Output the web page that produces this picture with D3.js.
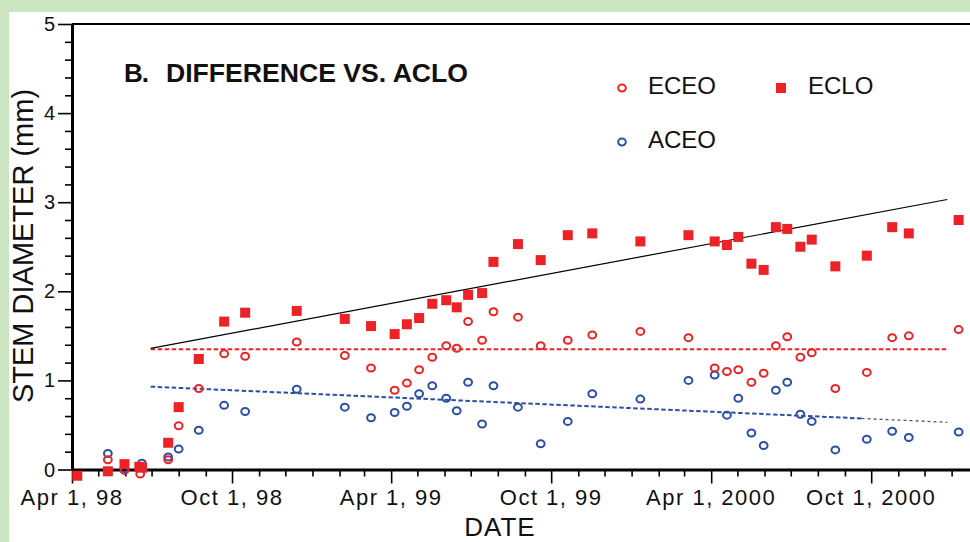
<!DOCTYPE html>
<html lang="en">
<head>
    <meta charset="UTF-8">
    <title>Stem diameter - difference vs ACLO</title>
    <style>
        html, body { margin: 0; padding: 0; background: #cbe5c3; }
        svg { display: block; }
        text { font-family: "Liberation Sans", Arial, sans-serif; fill: #111; }
        .axis path, .axis line { stroke: #000; }
    </style>
</head>
<body>
    <svg id="chart" width="970" height="542"></svg>

    <script src="https://d3js.org/d3.v7.min.js"></script>
    <script>
        // ECLO - filled squares
        const ECLO = [
            ["1998-04-07", -0.07], ["1998-05-12", -0.02], ["1998-05-31", 0.06], ["1998-06-17", 0.03],
            ["1998-06-20", 0.02], ["1998-07-20", 0.30], ["1998-08-01", 0.70], ["1998-08-24", 1.24],
            ["1998-09-22", 1.66], ["1998-10-16", 1.76], ["1998-12-14", 1.78], ["1999-02-07", 1.69],
            ["1999-03-09", 1.61], ["1999-04-05", 1.52], ["1999-04-19", 1.63], ["1999-05-03", 1.70],
            ["1999-05-18", 1.86], ["1999-06-03", 1.90], ["1999-06-15", 1.82], ["1999-06-28", 1.96],
            ["1999-07-14", 1.98], ["1999-07-27", 2.33], ["1999-08-24", 2.53], ["1999-09-19", 2.35],
            ["1999-10-20", 2.63], ["1999-11-17", 2.65], ["2000-01-11", 2.56], ["2000-03-06", 2.63],
            ["2000-04-05", 2.56], ["2000-04-19", 2.52], ["2000-05-02", 2.61], ["2000-05-17", 2.31],
            ["2000-05-31", 2.24], ["2000-06-14", 2.72], ["2000-06-27", 2.70], ["2000-07-12", 2.50],
            ["2000-07-25", 2.58], ["2000-08-21", 2.28], ["2000-09-26", 2.40], ["2000-10-25", 2.72],
            ["2000-11-13", 2.65], ["2001-01-09", 2.80]
        ];

        // ECEO - red open circles
        const ECEO = [
            ["1998-05-12", 0.11], ["1998-05-31", -0.01], ["1998-06-18", -0.05], ["1998-07-20", 0.11],
            ["1998-08-01", 0.49], ["1998-08-24", 0.91], ["1998-09-22", 1.30], ["1998-10-16", 1.27],
            ["1998-12-14", 1.43], ["1999-02-07", 1.28], ["1999-03-09", 1.14], ["1999-04-05", 0.89],
            ["1999-04-19", 0.97], ["1999-05-03", 1.12], ["1999-05-18", 1.26], ["1999-06-03", 1.39],
            ["1999-06-15", 1.36], ["1999-06-28", 1.66], ["1999-07-14", 1.45], ["1999-07-27", 1.77],
            ["1999-08-24", 1.71], ["1999-09-19", 1.39], ["1999-10-20", 1.45], ["1999-11-17", 1.51],
            ["2000-01-11", 1.55], ["2000-03-06", 1.48], ["2000-04-05", 1.14], ["2000-04-19", 1.10],
            ["2000-05-02", 1.12], ["2000-05-17", 0.98], ["2000-05-31", 1.08], ["2000-06-14", 1.39],
            ["2000-06-27", 1.49], ["2000-07-12", 1.26], ["2000-07-25", 1.31], ["2000-08-21", 0.91],
            ["2000-09-26", 1.09], ["2000-10-25", 1.48], ["2000-11-13", 1.50], ["2001-01-09", 1.57]
        ];

        // ACEO - blue open circles
        const ACEO = [
            ["1998-05-12", 0.18], ["1998-05-31", 0.01], ["1998-06-20", 0.07], ["1998-07-20", 0.14],
            ["1998-08-01", 0.23], ["1998-08-24", 0.44], ["1998-09-22", 0.72], ["1998-10-16", 0.65],
            ["1998-12-14", 0.90], ["1999-02-07", 0.70], ["1999-03-09", 0.58], ["1999-04-05", 0.64],
            ["1999-04-19", 0.71], ["1999-05-03", 0.85], ["1999-05-18", 0.94], ["1999-06-03", 0.80],
            ["1999-06-15", 0.66], ["1999-06-28", 0.98], ["1999-07-14", 0.51], ["1999-07-27", 0.94],
            ["1999-08-24", 0.70], ["1999-09-19", 0.29], ["1999-10-20", 0.54], ["1999-11-17", 0.85],
            ["2000-01-11", 0.79], ["2000-03-06", 1.00], ["2000-04-05", 1.06], ["2000-04-19", 0.61],
            ["2000-05-02", 0.80], ["2000-05-17", 0.41], ["2000-05-31", 0.27], ["2000-06-14", 0.89],
            ["2000-06-27", 0.98], ["2000-07-12", 0.62], ["2000-07-25", 0.54], ["2000-08-21", 0.22],
            ["2000-09-26", 0.34], ["2000-10-25", 0.43], ["2000-11-13", 0.36], ["2001-01-09", 0.42]
        ];

        // fitted lines
        const ECLO_TREND = [["1998-06-30", 1.36], ["2000-12-27", 3.03]];
        const ECEO_MEAN = [["1998-06-30", 1.35], ["2000-12-27", 1.35]];
        const ACEO_TREND = [["1998-06-30", 0.93], ["2000-09-20", 0.573]];
        const ACEO_TREND_END = [["2000-09-20", 0.573], ["2000-12-27", 0.53]];

        const xTickLabels = ["Apr 1, 98", "Oct 1, 98", "Apr 1, 99", "Oct 1, 99", "Apr 1, 2000", "Oct 1, 2000"];
        const yTickValues = [0, 1, 2, 3, 4, 5];

        const RED = "#ec2227";
        const BLUE = "#2d4ea6";

        const parse = d3.timeParse("%Y-%m-%d");
        const svg = d3.select("#chart");

        // white panel over the green frame
        svg.append("rect").attr("x", 9).attr("y", 12).attr("width", 961).attr("height", 530).attr("fill", "#fff");

        const x = d3.scaleTime()
            .domain([parse("1998-04-01"), parse("2001-01-22")])
            .range([72, 970]);
        const y = d3.scaleLinear().domain([0, 5]).range([469.5, 24]);

        // top frame line
        svg.append("line")
            .attr("x1", 72).attr("x2", 970).attr("y1", y(5)).attr("y2", y(5))
            .attr("stroke", "#000").attr("stroke-width", 2);

        // x axis: monthly ticks, labelled every 6 months
        const months = d3.timeMonth.range(parse("1998-04-01"), parse("2001-01-02"));
        const isMajor = d => d.getMonth() === 3 || d.getMonth() === 9;
        const majors = months.filter(isMajor);

        const xAxis = svg.append("g").attr("class", "axis")
            .attr("transform", `translate(0,${y(0)})`)
            .call(d3.axisBottom(x).tickValues(months).tickSize(7).tickSizeOuter(0).tickFormat(""));
        xAxis.select(".domain").attr("stroke-width", 3);
        xAxis.selectAll(".tick line")
            .attr("stroke-width", 1.6)
            .attr("y2", d => isMajor(d) ? 14 : 7);

        svg.append("g").selectAll("text")
            .data(majors)
            .join("text")
            .attr("x", d => x(d))
            .attr("y", 505)
            .attr("text-anchor", "middle")
            .attr("font-size", 22)
            .attr("letter-spacing", 1.5)
            .text((d, i) => xTickLabels[i]);

        // y axis
        const yMinor = d3.range(0, 5.01, 0.2);
        const yAxis = svg.append("g").attr("class", "axis")
            .attr("transform", "translate(72,0)")
            .call(d3.axisLeft(y).tickValues(yMinor).tickSize(7).tickSizeOuter(0).tickFormat(""));
        yAxis.select(".domain").attr("stroke-width", 3);
        yAxis.selectAll(".tick line")
            .attr("stroke-width", 1.6)
            .attr("x2", d => Math.abs(d - Math.round(d)) < 1e-6 ? -14 : -7);

        svg.append("g").selectAll("text")
            .data(yTickValues)
            .join("text")
            .attr("x", 55)
            .attr("y", d => y(d) + 7)
            .attr("text-anchor", "end")
            .attr("font-size", 20)
            .text(d => d);

        // axis titles
        svg.append("text")
            .attr("transform", "translate(33,246) rotate(-90)")
            .attr("text-anchor", "middle")
            .attr("font-size", 29)
            .text("STEM DIAMETER (mm)");

        svg.append("text")
            .attr("x", 500).attr("y", 536)
            .attr("text-anchor", "middle")
            .attr("font-size", 26)
            .attr("letter-spacing", 1)
            .text("DATE");

        // panel title
        svg.append("text")
            .attr("x", 124).attr("y", 82)
            .attr("font-size", 26).attr("font-weight", "bold")
            .attr("letter-spacing", -1)
            .text("B.");
        svg.append("text")
            .attr("x", 166).attr("y", 82)
            .attr("font-size", 26).attr("font-weight", "bold")
            .attr("textLength", 302).attr("lengthAdjust", "spacingAndGlyphs")
            .text("DIFFERENCE VS. ACLO");

        // lines
        const line = d3.line().x(d => x(parse(d[0]))).y(d => y(d[1]));
        svg.append("path").datum(ACEO_TREND).attr("d", line)
            .attr("fill", "none").attr("stroke", BLUE).attr("stroke-width", 2).attr("stroke-dasharray", "4.5,2.5");
        svg.append("path").datum(ACEO_TREND_END).attr("d", line)
            .attr("fill", "none").attr("stroke", "#555").attr("stroke-width", 1.3).attr("stroke-dasharray", "3,3");
        svg.append("path").datum(ECEO_MEAN).attr("d", line)
            .attr("fill", "none").attr("stroke", RED).attr("stroke-width", 2).attr("stroke-dasharray", "4.5,2.5");
        svg.append("path").datum(ECLO_TREND).attr("d", line)
            .attr("fill", "none").attr("stroke", "#000").attr("stroke-width", 1.2);

        // points
        svg.append("g").selectAll("ellipse")
            .data(ACEO)
            .join("ellipse")
            .attr("cx", d => x(parse(d[0])))
            .attr("cy", d => y(d[1]))
            .attr("rx", 3.9).attr("ry", 3.5)
            .attr("fill", "none").attr("stroke", BLUE).attr("stroke-width", 2);

        svg.append("g").selectAll("ellipse")
            .data(ECEO)
            .join("ellipse")
            .attr("cx", d => x(parse(d[0])))
            .attr("cy", d => y(d[1]))
            .attr("rx", 3.9).attr("ry", 3.5)
            .attr("fill", "none").attr("stroke", RED).attr("stroke-width", 2);

        const sq = 10;
        svg.append("g").selectAll("rect")
            .data(ECLO)
            .join("rect")
            .attr("x", d => x(parse(d[0])) - sq / 2)
            .attr("y", d => y(d[1]) - sq / 2)
            .attr("width", sq).attr("height", sq)
            .attr("fill", RED);

        // legend
        const legend = svg.append("g");
        legend.append("ellipse").attr("cx", 622).attr("cy", 88).attr("rx", 3.8).attr("ry", 3.4)
            .attr("fill", "none").attr("stroke", RED).attr("stroke-width", 2);
        legend.append("text").attr("x", 648).attr("y", 94).attr("font-size", 24).text("ECEO");
        legend.append("rect").attr("x", 776).attr("y", 83).attr("width", 10).attr("height", 10).attr("fill", RED);
        legend.append("text").attr("x", 808).attr("y", 94).attr("font-size", 24).text("ECLO");
        legend.append("ellipse").attr("cx", 622).attr("cy", 142).attr("rx", 3.8).attr("ry", 3.4)
            .attr("fill", "none").attr("stroke", BLUE).attr("stroke-width", 2);
        legend.append("text").attr("x", 648).attr("y", 148).attr("font-size", 24).text("ACEO");
    </script>
</body>
</html>
